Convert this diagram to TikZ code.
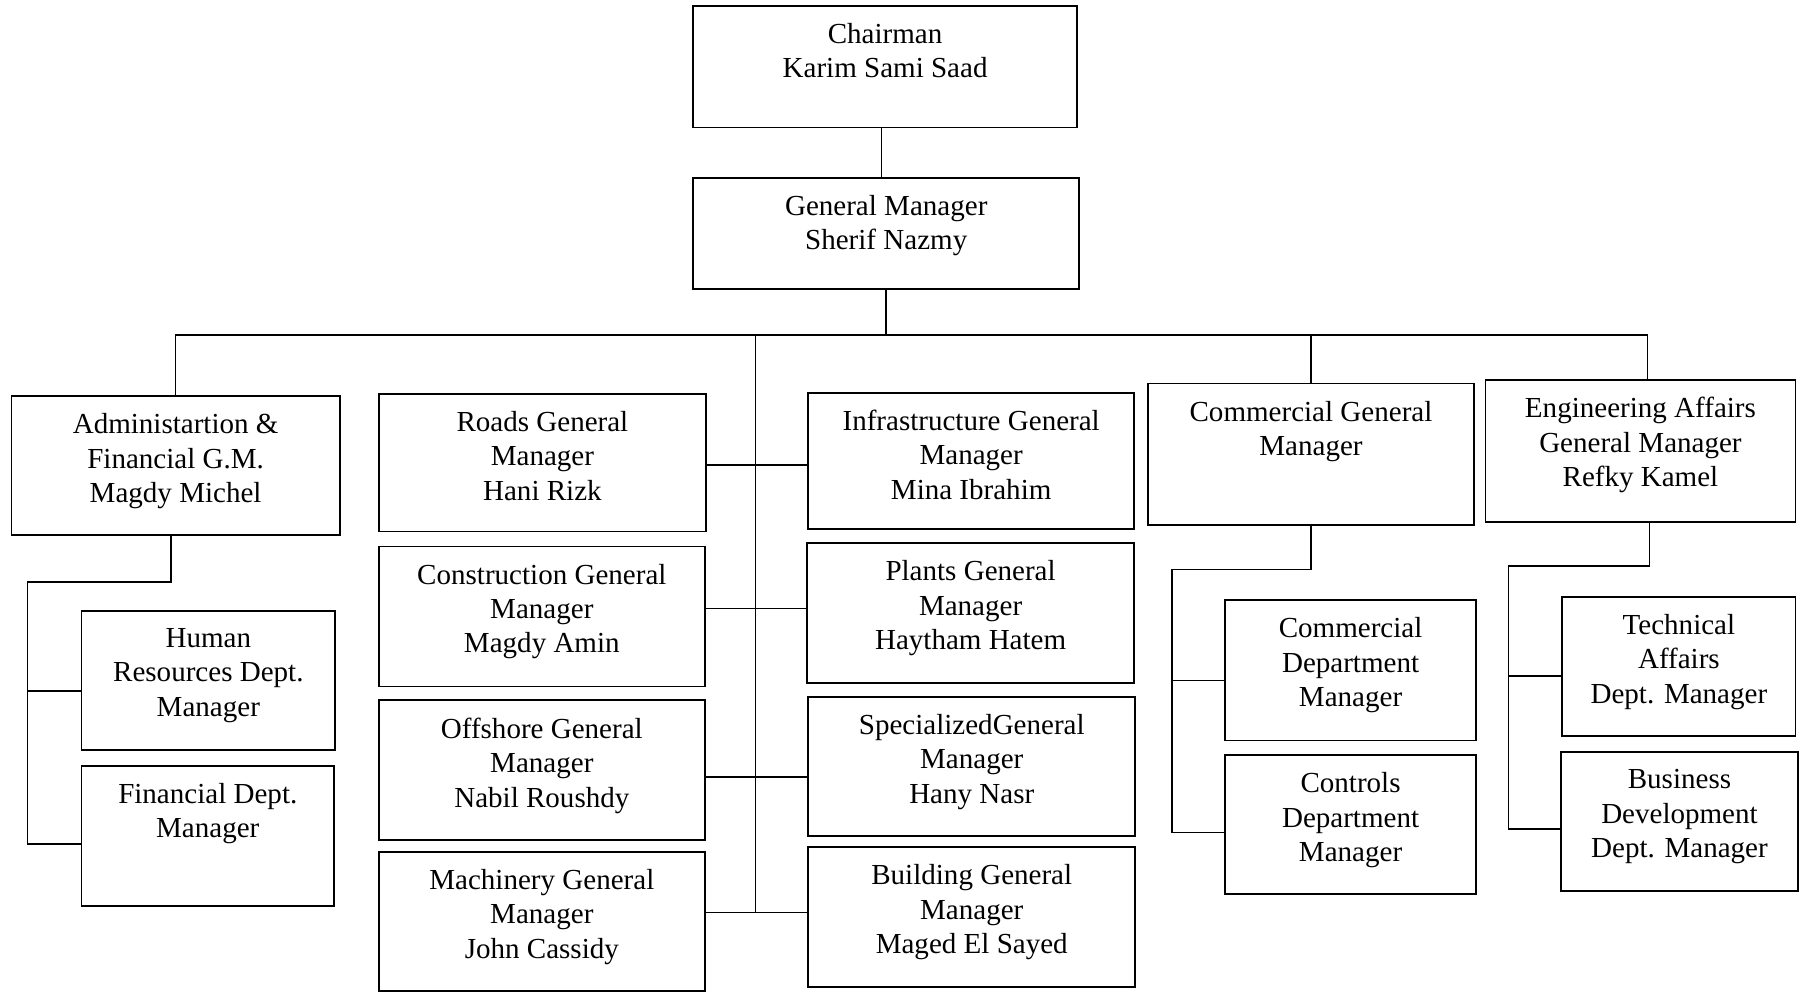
\documentclass[tikz,border=0pt]{standalone}
\usepackage{fontspec}
\setmainfont{Liberation Serif}
\usetikzlibrary{calc}
\newcommand\obox[6]{%
  \node[obx, minimum width={(#4-#2)*1pt}, minimum height={(#5-#3)*1pt}] (#1) at (#2,#3) {};
  \node[otx] (#1-t) at ($(#1.north)+(0,15)$) {#6};
}
\tikzset{
  obx/.style={draw, line width=1.6pt, inner sep=0pt, outer sep=0pt, anchor=north west},
  otx/.style={anchor=north, align=center, inner sep=0pt, font=\fontsize{25.3}{30}\selectfont},
  conn/.style={line width=1.3pt}
}
\begin{document}
\begin{tikzpicture}[x=1pt,y=-1pt]
\useasboundingbox[fill=white] (0,0) rectangle (1568,864);
% top
\obox{chair}{604}{5}{938}{111}{Chairman\\Karim Sami Saad}
\obox{gm}{604}{155}{940}{252}{General Manager\\Sherif Nazmy}
% second level
\obox{admin}{10}{345}{296}{466}{Administartion \&\\Financial G.M.\\Magdy Michel}
\obox{roads}{330}{343}{615}{463}{Roads General\\Manager\\Hani Rizk}
\obox{cons}{330}{476}{614}{598}{Construction General\\Manager\\Magdy Amin}
\obox{off}{330}{610}{614}{732}{Offshore General\\Manager\\Nabil Roushdy}
\obox{mach}{330}{742}{614}{863}{Machinery General\\Manager\\John Cassidy}
\obox{infra}{704}{342}{988}{461}{Infrastructure General\\Manager\\Mina Ibrahim}
\obox{plants}{703}{473}{988}{595}{Plants General\\Manager\\Haytham Hatem}
\obox{spec}{704}{607}{989}{728}{SpecializedGeneral\\Manager\\Hany Nasr}
\obox{build}{704}{738}{989}{860}{Building General\\Manager\\Maged El Sayed}
\obox{comm}{1000}{334}{1284}{457}{Commercial General\\Manager}
\obox{eng}{1294}{331}{1564}{455}{Engineering Affairs\\General Manager\\Refky Kamel}
% third level
\obox{hr}{71}{532}{292}{653}{Human\\Resources Dept.\\Manager}
\obox{fin}{71}{667}{291}{789}{Financial Dept.\\Manager}
\obox{cdep}{1067}{523}{1286}{645}{Commercial\\Department\\Manager}
\obox{ctrl}{1067}{658}{1286}{779}{Controls\\Department\\Manager}
\obox{tech}{1361}{520}{1564}{641}{Technical\\Affairs\\Dept. Manager}
\obox{biz}{1360}{655}{1566}{776}{Business\\Development\\Dept. Manager}
% coordinates
\coordinate (busline) at (0,292);
\coordinate (cg) at (768,0);
\coordinate (spine) at (658,292);
\coordinate (engdrop) at (1435,292);
\coordinate (r1) at (658,405);
\coordinate (r2) at (658,530);
\coordinate (r3) at (658,677);
\coordinate (r4) at (658,795);
\coordinate (a1) at (149,507);
\coordinate (aL) at (24,507);
\coordinate (hb) at (0,602);
\coordinate (fb) at (0,735);
\coordinate (c1) at (1142,496);
\coordinate (cL) at (1021,496);
\coordinate (cb1) at (0,593);
\coordinate (cb2) at (0,725);
\coordinate (e1) at (1437,493);
\coordinate (eL) at (1314,493);
\coordinate (eb1) at (0,589);
\coordinate (eb2) at (0,722);
% connectors
\draw[conn] (chair.south -| cg) -- (gm.north -| cg);
\draw[conn] (gm.south) -- (gm.south |- busline);
\draw[conn] (admin.north) -- (admin.north |- busline) -- (engdrop) -- (engdrop |- eng.north);
\draw[conn] (comm.north) -- (comm.north |- busline);
\draw[conn] (spine) -- (r4);
\draw[conn] (roads.east |- r1) -- (infra.west |- r1);
\draw[conn] (cons.east |- r2) -- (plants.west |- r2);
\draw[conn] (off.east |- r3) -- (spec.west |- r3);
\draw[conn] (mach.east |- r4) -- (build.west |- r4);
\draw[conn] (admin.south -| a1) -- (a1) -- (aL) -- (aL |- fb) -- (fin.west |- fb);
\draw[conn] (aL |- hb) -- (hr.west |- hb);
\draw[conn] (comm.south -| c1) -- (c1) -- (cL) -- (cL |- cb2) -- (ctrl.west |- cb2);
\draw[conn] (cL |- cb1) -- (cdep.west |- cb1);
\draw[conn] (eng.south -| e1) -- (e1) -- (eL) -- (eL |- eb2) -- (biz.west |- eb2);
\draw[conn] (eL |- eb1) -- (tech.west |- eb1);
\end{tikzpicture}
\end{document}
